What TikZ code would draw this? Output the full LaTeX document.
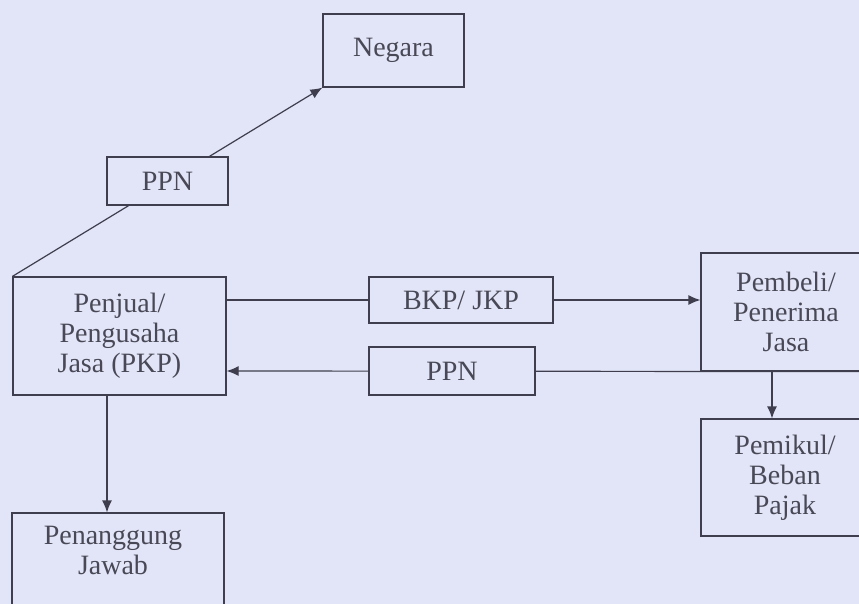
\documentclass[tikz,border=0pt]{standalone}
\usepackage{fontspec}
\setmainfont{Liberation Serif}
\usetikzlibrary{arrows.meta}
\pgfdeclarelayer{background}
\pgfsetlayers{background,main}
\definecolor{bgc}{RGB}{226,229,247}
\definecolor{ink}{RGB}{62,62,78}
\definecolor{txt}{RGB}{72,72,86}
\tikzset{
  box/.style={draw=ink, line width=1.2pt, fill=bgc, rectangle, inner sep=0pt,
    text=txt, align=center, font=\fontsize{28}{30}\selectfont},
  lbl/.style={text=txt, align=center, inner sep=0pt, font=\fontsize{28}{30}\selectfont},
  conn/.style={draw=ink, line width=1.2pt},
  arr/.style={conn, -{Latex[length=12pt,width=10pt]}}
}
\begin{document}
\begin{tikzpicture}[x=1pt,y=-1pt]
\useasboundingbox (0,0) rectangle (859,604);
\clip (0,0) rectangle (859,604);
% boxes
\node[box, minimum width=141pt, minimum height=73pt] (negara) at (393.5,50.5) {Negara};
\node[box, minimum width=121pt, minimum height=48pt] (ppntop) at (167.5,181) {PPN};
\node[box, minimum width=213pt, minimum height=118pt] (penjual) at (119.5,336) {Penjual/\\Pengusaha\\Jasa (PKP)};
\node[box, minimum width=184pt, minimum height=46pt] (bkp) at (461,300) {BKP/ JKP};
\node[box, minimum width=166pt, minimum height=48pt] (ppnmid) at (452,371) {PPN};
\node[box, minimum width=170pt, minimum height=118pt] (pembeli) at (786,312) {Pembeli/\\Penerima\\Jasa};
\node[box, minimum width=168pt, minimum height=117pt] (pemikul) at (785,477.5) {Pemikul/\\Beban\\Pajak};
\node[box, minimum width=212pt, minimum height=130pt] (penanggung) at (118,578) {};
\node[lbl] (penanggungtxt) at (113,550) {Penanggung\\Jawab};
% connector points
\coordinate (split) at (772,371);
\coordinate (down) at (107,395);
\begin{pgfonlayer}{background}
\fill[bgc] (0,0) rectangle (859,604);
\draw[arr] (penjual.north west) -- (negara.south west);
\draw[arr] (penjual.east |- bkp.center) -- (pembeli.west |- bkp.center);
\draw[arr] (pembeli.south east) -- (penjual.east |- ppnmid.center);
\end{pgfonlayer}
\draw[arr] (split) -- (split |- pemikul.north);
\draw[arr] (down) -- (down |- penanggung.north);
\end{tikzpicture}
\end{document}
